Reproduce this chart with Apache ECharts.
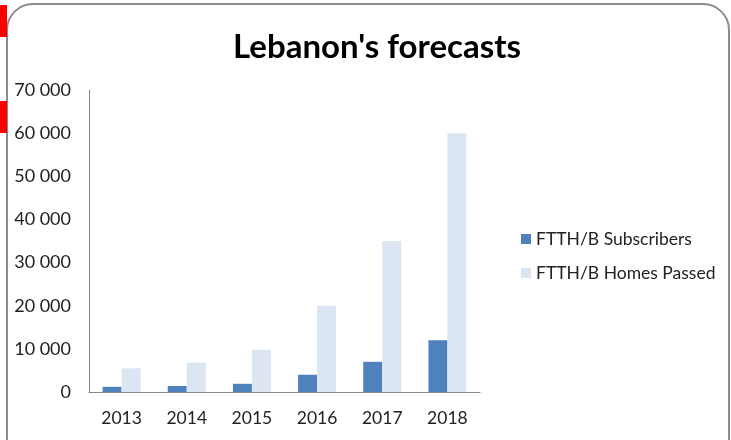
<!DOCTYPE html>
<html>
<head>
<meta charset="utf-8">
<script src="https://cdn.jsdelivr.net/npm/echarts@6/dist/echarts.min.js"></script>
<style>
  html, body { margin: 0; padding: 0; background: #fff; }
  #chart { width: 731px; height: 440px; }
</style>
</head>
<body>
<div id="chart"></div>
<script>
var years = ["2013", "2014", "2015", "2016", "2017", "2018"];
var subscribers = [1200, 1400, 1900, 4000, 7000, 12000];
var homesPassed = [5500, 6800, 9800, 20000, 35000, 60000];

var chart = echarts.init(document.getElementById("chart"));
var font = "Lato, 'Open Sans', sans-serif";

function spaced(v) {
  return String(v).replace(/\B(?=(\d{3})+(?!\d))/g, " ");
}

var option = {
  backgroundColor: "#fff",
  animation: false,
  textStyle: { fontFamily: font },
  title: {
    text: "Lebanon's forecasts",
    left: 372,
    top: 26,
    textAlign: "center",
    textStyle: { fontFamily: font, fontWeight: "bold", fontSize: 33, color: "#000" }
  },
  legend: {
    orient: "vertical",
    left: 516,
    top: 225,
    itemWidth: 10,
    itemHeight: 10,
    itemGap: 16,
    icon: "rect",
    textStyle: { fontFamily: font, fontSize: 17.5, color: "#222", padding: [0, 0, 0, 0] },
    data: ["FTTH/B Subscribers", "FTTH/B Homes Passed"]
  },
  grid: { left: 89, right: 251, top: 90, bottom: 48 },
  xAxis: {
    type: "category",
    data: years,
    axisLine: { lineStyle: { color: "#888", width: 1 } },
    axisTick: { show: false },
    axisLabel: { fontFamily: font, fontSize: 17.5, color: "#222", margin: 17 }
  },
  yAxis: {
    type: "value",
    min: 0,
    max: 70000,
    interval: 10000,
    axisLine: { show: true, lineStyle: { color: "#888", width: 1 } },
    axisTick: { show: false },
    splitLine: { show: false },
    axisLabel: {
      fontFamily: font, fontSize: 18, color: "#222", margin: 18,
      formatter: spaced
    }
  },
  series: [
    {
      name: "FTTH/B Subscribers",
      type: "bar",
      data: subscribers,
      barWidth: 19,
      barGap: "0%",
      itemStyle: { color: "#4F81BD" }
    },
    {
      name: "FTTH/B Homes Passed",
      type: "bar",
      data: homesPassed,
      barWidth: 19,
      itemStyle: { color: "#DCE6F2" }
    }
  ],
  graphic: [
    {
      type: "rect",
      shape: { x: 7, y: 4, width: 722, height: 460, r: 26 },
      style: { fill: "none", stroke: "#8c8c8c", lineWidth: 2 },
      z: 100
    },
    { type: "rect", shape: { x: 0, y: 5, width: 7, height: 32 }, style: { fill: "#ff0000" }, z: 100 },
    { type: "rect", shape: { x: 0, y: 101, width: 7, height: 32 }, style: { fill: "#ff0000" }, z: 100 }
  ]
};

chart.setOption(option);
</script>
</body>
</html>
